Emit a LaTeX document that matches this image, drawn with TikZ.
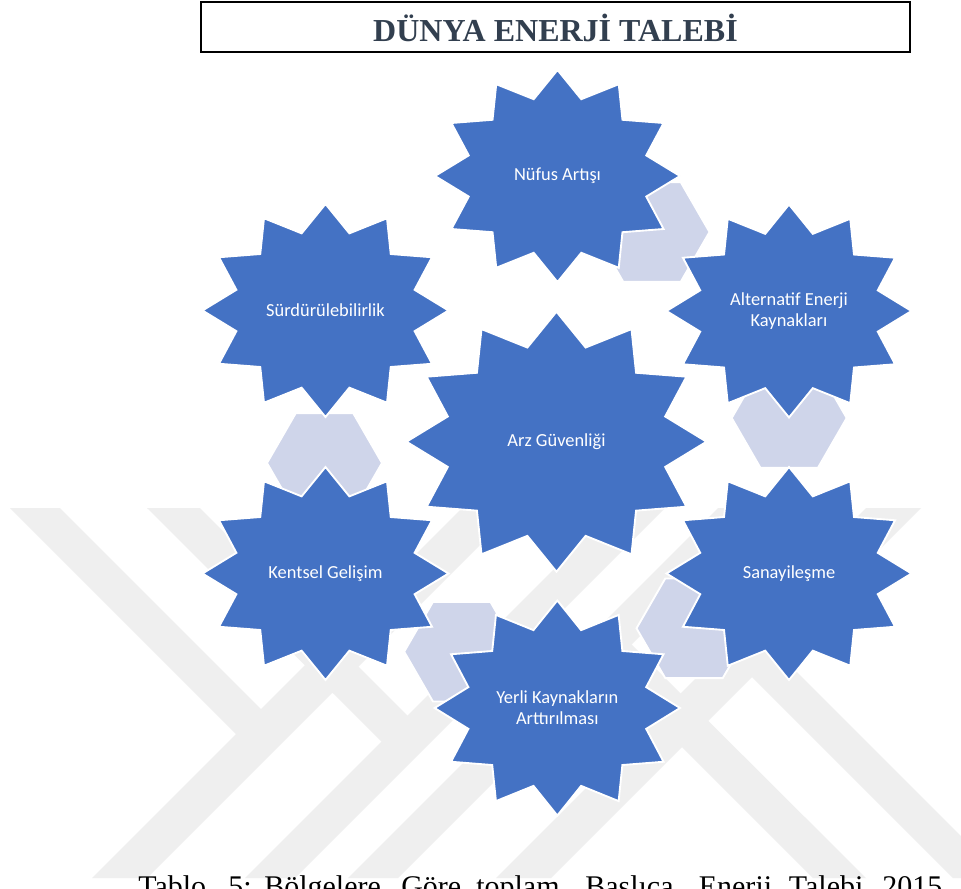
\documentclass[tikz,border=0pt]{standalone}
\usepackage{fontspec}
\setmainfont{Liberation Serif}
\newfontfamily\calibrifont{Carlito}
\definecolor{starblue}{HTML}{4472C4}
\definecolor{hexlav}{HTML}{CFD5EA}
\definecolor{wmgray}{HTML}{EFEFEF}
\definecolor{titlecol}{HTML}{323F4F}
\tikzset{
  starshape/.style={fill=starblue, draw=white, line width=1.4pt, line join=miter},
  hexshape/.style={fill=hexlav, draw=white, line width=1.4pt},
  wmband/.style={fill=wmgray, draw=none},
  startext/.style={text=white, font=\calibrifont\fontsize{13.8}{15.5}\selectfont, align=center, inner sep=0pt},
  captext/.style={font=\fontsize{22.5}{27}\selectfont, inner sep=0pt, anchor=base west},
  titlebox/.style={draw=black, line width=1.1pt, minimum width=531.75pt, minimum height=37.5pt, inner sep=0pt},
  titletext/.style={text=titlecol, font=\bfseries\fontsize{24}{28}\selectfont, inner sep=0pt, anchor=base}
}
\newcommand{\twelvestar}[4]{%
  \filldraw[starshape] plot[variable=\k, samples at={0,1,...,23}]
    ({#1+(1-0.25*mod(\k,2))*#3*sin(\k*15)}, {#2-(1-0.25*mod(\k,2))*#4*cos(\k*15)}) -- cycle;
}
\newcommand{\hexa}[2]{%
  \filldraw[hexshape] plot[variable=\a, samples at={0,60,...,300}]
    ({#1+57.5*cos(\a)}, {#2+57.5*sin(\a)}) -- cycle;
}
\begin{document}
\begin{tikzpicture}[x=0.75pt,y=-0.75pt]
\useasboundingbox (0,0) rectangle (961,889);
\clip (0,0) rectangle (961,889);
\fill[white] (0,0) rectangle (961,889);

% watermark
\fill[wmband] (92,878) -- (147,878) -- (517,508) -- (462,508) -- cycle;
\fill[wmband] (245,878) -- (295,878) -- (665,508) -- (615,508) -- cycle;
\fill[wmband] (10,508) -- (60,508) -- (275,723) -- (250,748) -- cycle;
\fill[wmband] (147,508) -- (200,508) -- (420,728) -- (394,754) -- cycle;
\fill[wmband] (866,508) -- (921,508) -- (551,878) -- (496,878) -- cycle;
\fill[wmband] (718,508) -- (768,508) -- (398,878) -- (348,878) -- cycle;
\fill[wmband] (1003,878) -- (953,878) -- (738,663) -- (763,638) -- cycle;
\fill[wmband] (866,878) -- (813,878) -- (593,658) -- (619,632) -- cycle;

% title
\node[titlebox] (titlebox) at (555.5,27) {};
\node[titletext] (title) at (555.5,41) {DÜNYA ENERJİ TALEBİ};

% connectors (hexagons)
\hexa{652}{232}
\hexa{789.2}{418}
\hexa{694}{628.3}
\hexa{461.7}{651.7}
\hexa{324.5}{463}

% outer stars
\twelvestar{557.5}{176}{122.5}{106}
\twelvestar{789}{311}{122.5}{106.5}
\twelvestar{789}{573.5}{122.5}{106.5}
\twelvestar{557.3}{708}{122.7}{107.5}
\twelvestar{325.5}{573.5}{123}{106.5}
\twelvestar{325.5}{310.5}{123}{106.5}
% centre star
\twelvestar{556.5}{441.7}{150}{130}

% star texts
\node[startext] (nufus) at (557.5,176) {Nüfus Artışı};
\node[startext] (alternatif) at (789,311) {Alternatif Enerji\\Kaynakları};
\node[startext] (sanayi) at (789,573.5) {Sanayileşme};
\node[startext] (yerli) at (557.3,708) {Yerli Kaynakların\\Arttırılması};
\node[startext] (kentsel) at (325.5,573.5) {Kentsel Gelişim};
\node[startext] (surdur) at (325.5,310.5) {Sürdürülebilirlik};
\node[startext] (arz) at (556.5,441.7) {Arz Güvenliği};

% caption (cut by the page edge, as in the reference)
\node[captext] (cap1) at (138,896) {Tablo};
\node[captext] (cap2) at (228,896) {5:};
\node[captext] (cap3) at (264,896) {Bölgelere};
\node[captext] (cap4) at (401,896) {Göre};
\node[captext] (cap5) at (476,896) {toplam};
\node[captext] (cap6) at (585,896) {Başlıca};
\node[captext] (cap7) at (698.5,896) {Enerji};
\node[captext] (cap8) at (788.6,896) {Talebi};
\node[captext] (cap9) at (882,896) {2015};
\end{tikzpicture}
\end{document}
